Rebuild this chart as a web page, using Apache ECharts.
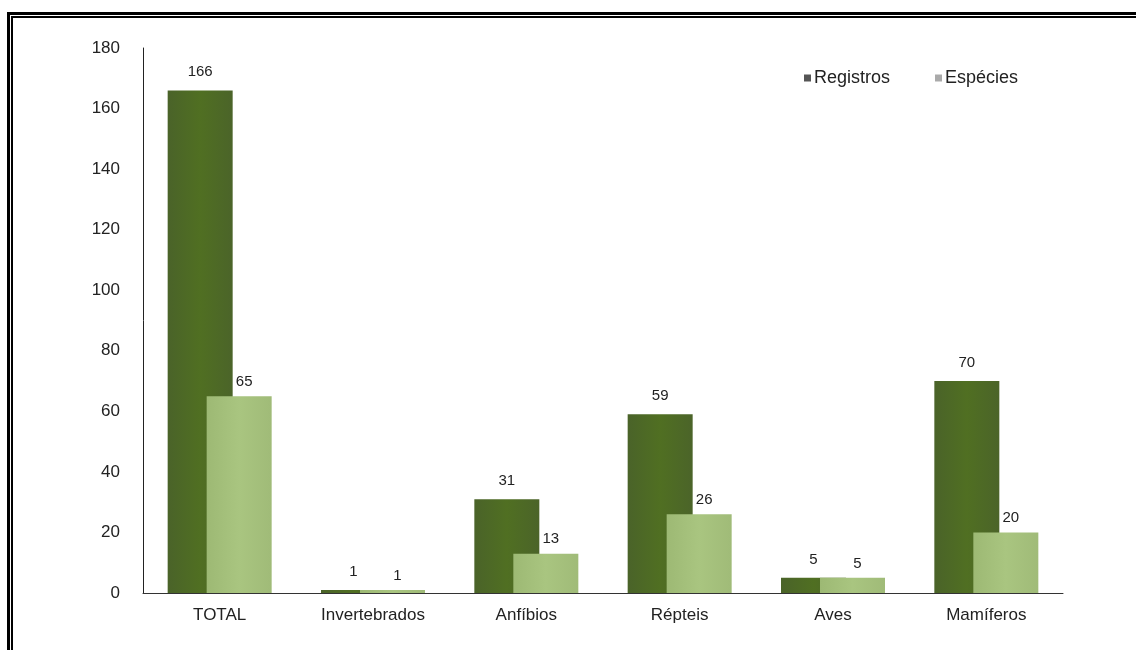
<!DOCTYPE html>
<html>
<head>
<meta charset="utf-8">
<script src="https://cdn.jsdelivr.net/npm/echarts@6/dist/echarts.min.js"></script>
<style>
  body { margin: 0; background: #fff; }
  .frame-outer { position: absolute; left: 7px; top: 12px; width: 1200px; height: 700px; border-left: 3px solid #000; border-top: 3px solid #000; }
  .frame-inner { position: absolute; left: 11px; top: 16px; width: 1200px; height: 700px; border-left: 2px solid #000; border-top: 2px solid #000; }
  #chart { position: absolute; left: 0; top: 0; width: 1136px; height: 650px; }
</style>
</head>
<body>
<div class="frame-outer"></div>
<div class="frame-inner"></div>
<div id="chart"></div>
<script>
const categories = ["TOTAL", "Invertebrados", "Anfíbios", "Répteis", "Aves", "Mamíferos"];
const registros = [166, 1, 31, 59, 5, 70];
const especies = [65, 1, 13, 26, 5, 20];
const yTicks = { min: 0, max: 180, interval: 20 };

const font = "'Liberation Sans', Arial, sans-serif";

// bars are a little darker on the edges, like the original office chart
const darkFill = new echarts.graphic.LinearGradient(0, 0, 1, 0, [
  { offset: 0, color: "#4a6329" },
  { offset: 0.5, color: "#506f22" },
  { offset: 1, color: "#4b6429" },
]);
const lightFill = new echarts.graphic.LinearGradient(0, 0, 1, 0, [
  { offset: 0, color: "#9db974" },
  { offset: 0.5, color: "#a9c580" },
  { offset: 1, color: "#a0bb78" },
]);

const chart = echarts.init(document.getElementById("chart"));

chart.setOption({
  animation: false,
  textStyle: { fontFamily: font },
  grid: { left: 143, right: 73, top: 48, bottom: 57 },
  legend: {
    left: 799,
    top: 64,
    itemWidth: 7,
    itemHeight: 7,
    itemGap: 45,
    icon: "rect",
    textStyle: { fontFamily: font, fontSize: 18, color: "#222", padding: [0, 0, 0, -2] },
    data: [
      { name: "Registros", itemStyle: { color: "#555" } },
      { name: "Espécies", itemStyle: { color: "#aaa" } },
    ],
  },
  xAxis: {
    type: "category",
    data: categories,
    axisLine: { lineStyle: { color: "#333", width: 1 } },
    axisTick: { show: false },
    axisLabel: { fontFamily: font, fontSize: 17, color: "#222", margin: 14 },
  },
  yAxis: {
    type: "value",
    min: yTicks.min,
    max: yTicks.max,
    interval: yTicks.interval,
    axisLine: { show: true, lineStyle: { color: "#222", width: 1 } },
    axisTick: { show: false },
    splitLine: { show: false },
    axisLabel: { fontFamily: font, fontSize: 17, color: "#222", margin: 23 },
  },
  series: [
    {
      name: "Registros",
      type: "bar",
      data: registros,
      barWidth: 65,
      barGap: "-40%",
      itemStyle: { color: darkFill },
      label: { show: true, position: "top", distance: 11, fontFamily: font, fontSize: 15, color: "#222" },
    },
    {
      name: "Espécies",
      type: "bar",
      data: especies,
      barWidth: 65,
      itemStyle: { color: lightFill },
      label: { show: true, position: "top", distance: 7, offset: [5, 0], fontFamily: font, fontSize: 15, color: "#222" },
    },
  ],
});
</script>
</body>
</html>
